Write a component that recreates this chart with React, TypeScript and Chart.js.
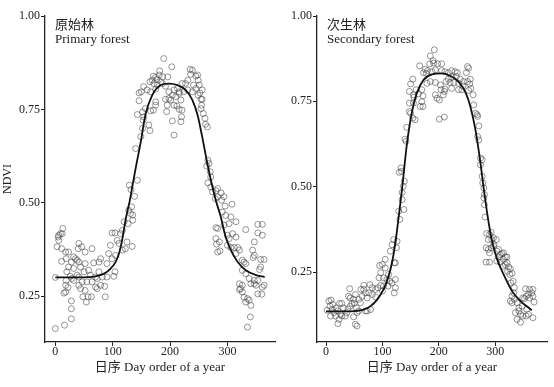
import React, { useEffect, useRef } from 'react';
import { Chart, registerables } from 'chart.js';

Chart.register(...registerables);

const X_TICKS = [0, 100, 200, 300];
const Y_TICKS = [0.25, 0.5, 0.75, 1.0];
const X_TITLE = '日序 Day order of a year';
const Y_TITLE = 'NDVI';

// Primary forest observations [day, NDVI]
const PRIMARY_POINTS: [number, number][] = [
  [0,0.163],[16,0.172],[28,0.189],[28,0.216],[28,0.237],[18,0.261],[15,0.258],[22,0.273],[6,0.413],[5,0.408],[9,0.417],[13,0.431],[12,0.417],[6,0.399],[3,0.382],[11,0.377],[18,0.368],[23,0.368],[41,0.391],[40,0.377],[46,0.382],[52,0.368],[64,0.377],[32,0.355],[35,0.350],[38,0.346],[41,0.341],[11,0.343],[19,0.350],[28,0.341],[44,0.328],[52,0.337],[67,0.339],[76,0.341],[79,0.350],[23,0.328],[32,0.324],[20,0.315],[26,0.303],[29,0.297],[41,0.301],[47,0.288],[50,0.315],[58,0.319],[61,0.306],[70,0.301],[76,0.315],[55,0.288],[64,0.288],[70,0.274],[73,0.270],[79,0.279],[86,0.276],[90,0.301],[87,0.248],[52,0.265],[57,0.248],[48,0.248],[54,0.234],[63,0.248],[41,0.279],[44,0.270],[32,0.292],[19,0.292],[18,0.279],[93,0.364],[96,0.386],[99,0.419],[104,0.419],[108,0.399],[111,0.391],[114,0.417],[117,0.426],[120,0.449],[125,0.395],[122,0.377],[134,0.383],[117,0.373],[105,0.359],[99,0.350],[104,0.315],[102,0.303],[90,0.337],[82,0.301],[128,0.480],[131,0.471],[135,0.467],[133,0.489],[135,0.453],[127,0.444],[73,0.297],[38,0.306],[0,0.300],
  [189,0.886],[203,0.864],[182,0.853],[171,0.839],[175,0.836],[181,0.842],[187,0.837],[196,0.837],[165,0.824],[169,0.828],[177,0.830],[184,0.824],[172,0.819],[178,0.815],[187,0.819],[192,0.812],[154,0.811],[160,0.802],[150,0.797],[146,0.794],[166,0.797],[175,0.804],[198,0.797],[207,0.802],[213,0.806],[221,0.819],[227,0.819],[231,0.828],[236,0.844],[239,0.855],[235,0.857],[248,0.842],[245,0.839],[249,0.828],[241,0.815],[251,0.815],[245,0.806],[239,0.797],[231,0.802],[224,0.797],[216,0.797],[204,0.788],[198,0.779],[192,0.777],[201,0.775],[210,0.784],[216,0.793],[219,0.775],[212,0.759],[216,0.750],[221,0.748],[207,0.761],[195,0.761],[194,0.744],[204,0.719],[220,0.730],[219,0.717],[207,0.681],[175,0.770],[175,0.761],[171,0.748],[166,0.746],[157,0.752],[152,0.743],[143,0.736],[146,0.773],[154,0.730],[153,0.721],[163,0.708],[165,0.693],[152,0.699],[149,0.677],[140,0.645],[143,0.560],[129,0.547],[132,0.535],[138,0.517],[254,0.777],[256,0.777],[255,0.761],[254,0.752],[258,0.739],[261,0.726],[265,0.703],[262,0.710],[266,0.614],[268,0.605],[264,0.598],[270,0.583],[271,0.569],[266,0.553],[271,0.542],[274,0.529],[283,0.538],[289,0.526],[283,0.516],[294,0.516],[252,0.794],[249,0.788],[256,0.802],
  [280,0.532],[279,0.511],[290,0.507],[296,0.491],[308,0.496],[291,0.475],[297,0.466],[306,0.462],[315,0.449],[303,0.444],[294,0.440],[280,0.433],[283,0.431],[309,0.417],[300,0.413],[303,0.404],[315,0.408],[280,0.404],[286,0.395],[281,0.389],[283,0.368],[287,0.371],[300,0.386],[306,0.380],[312,0.380],[318,0.380],[321,0.373],[315,0.364],[326,0.346],[329,0.341],[332,0.337],[332,0.428],[353,0.442],[361,0.442],[353,0.419],[361,0.413],[347,0.395],[344,0.373],[347,0.359],[345,0.353],[358,0.348],[364,0.348],[358,0.328],[356,0.321],[321,0.283],[326,0.279],[323,0.270],[321,0.267],[341,0.283],[347,0.283],[350,0.279],[353,0.292],[347,0.292],[364,0.279],[361,0.274],[353,0.256],[360,0.255],[326,0.261],[329,0.247],[335,0.243],[338,0.239],[332,0.234],[341,0.225],[340,0.194],[335,0.167],[326,0.319],[332,0.310],[338,0.297]
];

// Primary forest fitted curve
const PRIMARY_CURVE_DAYS = [0,40,70,85,96,105,111,117,122,126,130,135,141,149,157,169,184,198,213,227,239,248,256,265,274,280,288,297,306,318,332,350,365];
const PRIMARY_CURVE_NDVI = [0.300,0.300,0.303,0.310,0.323,0.341,0.364,0.404,0.450,0.480,0.507,0.550,0.600,0.663,0.735,0.788,0.815,0.819,0.815,0.802,0.775,0.735,0.677,0.605,0.542,0.505,0.465,0.408,0.373,0.341,0.319,0.306,0.301];

// Secondary forest observations [day, NDVI]
const SECONDARY_POINTS: [number, number][] = [
  [2,0.138],[7,0.150],[5,0.165],[9,0.168],[12,0.155],[11,0.140],[14,0.131],[8,0.121],[17,0.121],[21,0.136],[18,0.145],[24,0.158],[28,0.158],[31,0.145],[26,0.126],[23,0.111],[21,0.099],[28,0.121],[34,0.121],[37,0.131],[39,0.142],[43,0.150],[46,0.158],[43,0.174],[40,0.179],[42,0.201],[49,0.170],[52,0.184],[54,0.145],[55,0.131],[49,0.119],[52,0.097],[55,0.092],[58,0.136],[61,0.160],[64,0.179],[62,0.199],[67,0.211],[70,0.189],[73,0.174],[76,0.189],[78,0.213],[82,0.184],[79,0.140],[73,0.136],[70,0.136],[82,0.204],[88,0.199],[92,0.204],[97,0.211],[100,0.194],[102,0.209],[88,0.177],[94,0.233],[97,0.248],[95,0.269],[100,0.272],[105,0.262],[105,0.287],[102,0.233],[108,0.228],[111,0.243],[110,0.209],[113,0.223],[117,0.218],[123,0.204],[123,0.228],[121,0.189],[114,0.311],[117,0.330],[120,0.345],[125,0.321],[126,0.340],[121,0.277],[123,0.277],[131,0.404],[129,0.428],[138,0.433],[135,0.483],[139,0.516],[137,0.501],[135,0.462],[67,0.199],[58,0.170],[50,0.158],
  [192,0.901],[185,0.883],[190,0.869],[184,0.860],[191,0.862],[198,0.860],[205,0.860],[166,0.854],[176,0.844],[180,0.840],[188,0.837],[194,0.842],[173,0.834],[178,0.832],[205,0.840],[211,0.837],[217,0.834],[223,0.840],[229,0.837],[233,0.834],[251,0.852],[253,0.847],[249,0.834],[256,0.815],[251,0.808],[244,0.808],[238,0.815],[231,0.823],[223,0.821],[217,0.815],[213,0.808],[220,0.805],[227,0.805],[235,0.803],[243,0.795],[255,0.801],[257,0.788],[253,0.782],[235,0.784],[223,0.788],[211,0.786],[203,0.798],[194,0.805],[185,0.808],[179,0.803],[170,0.784],[160,0.784],[154,0.815],[150,0.801],[148,0.779],[155,0.769],[164,0.772],[156,0.762],[172,0.766],[170,0.749],[155,0.745],[148,0.745],[167,0.735],[172,0.735],[194,0.769],[197,0.759],[201,0.754],[208,0.769],[210,0.779],[204,0.784],[148,0.720],[150,0.715],[154,0.701],[158,0.696],[143,0.674],[140,0.639],[142,0.633],[261,0.769],[262,0.740],[265,0.715],[268,0.711],[269,0.706],[271,0.678],[269,0.647],[271,0.637],[201,0.698],[210,0.704],[133,0.555],[130,0.542],[134,0.545],[274,0.584],[277,0.579],[274,0.564],[277,0.530],[278,0.511],[280,0.496],[241,0.784],
  [281,0.477],[280,0.467],[281,0.447],[282,0.411],[285,0.363],[290,0.360],[293,0.366],[288,0.345],[294,0.345],[297,0.350],[302,0.345],[284,0.321],[288,0.316],[293,0.321],[297,0.326],[290,0.306],[303,0.311],[306,0.316],[309,0.301],[312,0.304],[315,0.306],[318,0.294],[321,0.294],[315,0.287],[318,0.272],[321,0.277],[324,0.265],[322,0.252],[327,0.259],[326,0.243],[330,0.246],[332,0.223],[328,0.218],[334,0.204],[284,0.279],[290,0.279],[303,0.282],[309,0.279],[354,0.201],[361,0.199],[367,0.199],[365,0.189],[359,0.184],[355,0.179],[349,0.174],[352,0.172],[361,0.174],[367,0.179],[369,0.162],[333,0.189],[330,0.179],[334,0.170],[339,0.160],[342,0.145],[336,0.131],[342,0.136],[345,0.126],[339,0.111],[345,0.103],[349,0.121],[355,0.121],[359,0.126],[367,0.116],[356,0.141],[348,0.150],[330,0.160],[327,0.165],[298,0.331],[314,0.267],[306,0.294]
];

// Secondary forest fitted curve
const SECONDARY_CURVE_DAYS = [0,43,67,79,91,102,111,117,123,129,135,143,152,161,173,188,205,220,235,248,256,265,274,280,288,294,303,315,330,345,365];
const SECONDARY_CURVE_NDVI = [0.135,0.135,0.140,0.150,0.170,0.199,0.238,0.277,0.335,0.413,0.495,0.618,0.715,0.774,0.813,0.829,0.832,0.825,0.808,0.774,0.735,0.667,0.569,0.491,0.400,0.345,0.290,0.243,0.194,0.165,0.138];

const SERIF = '"Liberation Serif", "Times New Roman", "Noto Sans CJK SC", serif';
const AXIS_COLOR = '#222';

type PanelProps = {
  left: number;
  width: number;
  axisWidth: number;
  padRight: number;
  yMin: number;
  xMin: number;
  xMax: number;
  showYTitle: boolean;
  points: [number, number][];
  curveDays: number[];
  curveNdvi: number[];
  labelCn: string;
  labelEn: string;
};

function Panel(p: PanelProps) {
  const ref = useRef<HTMLCanvasElement | null>(null);
  useEffect(() => {
    if (!ref.current) return;
    const chart = new Chart(ref.current, {
      type: 'scatter',
      data: {
        datasets: [
          {
            data: p.curveDays.map((d, i) => ({ x: d, y: p.curveNdvi[i] })),
            showLine: true,
            borderColor: '#111',
            borderWidth: 1.8,
            pointRadius: 0,
            cubicInterpolationMode: 'monotone',
            fill: false,
          } as any,
          {
            data: p.points.map(([d, v]) => ({ x: d, y: v })),
            showLine: false,
            pointRadius: 3,
            pointBorderWidth: 0.9,
            pointBorderColor: 'rgba(60,60,60,0.6)',
            pointBackgroundColor: 'rgba(0,0,0,0)',
          },
        ],
      },
      options: {
        animation: false,
        responsive: false,
        maintainAspectRatio: false,
        layout: { padding: { top: 16, left: 0, right: p.padRight, bottom: 0 } },
        plugins: { legend: { display: false }, tooltip: { enabled: false } },
        scales: {
          x: {
            type: 'linear',
            min: p.xMin,
            max: p.xMax,
            afterBuildTicks: (axis: any) => {
              axis.ticks = X_TICKS.map((v) => ({ value: v }));
            },
            afterFit: (s: any) => {
              s.height = 45;
            },
            grid: { drawOnChartArea: false, drawTicks: true, tickLength: 4, color: AXIS_COLOR, lineWidth: 1 },
            border: { display: true, color: AXIS_COLOR, width: 1.3 },
            ticks: {
              color: AXIS_COLOR,
              padding: 0,
              maxRotation: 0,
              font: { family: SERIF, size: 12, lineHeight: 1 },
              callback: (v: any) => String(v),
            },
            title: {
              display: true,
              text: X_TITLE,
              color: AXIS_COLOR,
              font: { family: SERIF, size: 13 },
              padding: { top: 0, bottom: 12 },
            },
          },
          y: {
            type: 'linear',
            min: p.yMin,
            max: 1.0,
            afterBuildTicks: (axis: any) => {
              axis.ticks = Y_TICKS.map((v) => ({ value: v }));
            },
            afterFit: (s: any) => {
              s.width = p.axisWidth;
            },
            grid: { drawOnChartArea: false, drawTicks: true, tickLength: 4, color: AXIS_COLOR, lineWidth: 1 },
            border: { display: true, color: AXIS_COLOR, width: 1.3 },
            ticks: {
              color: AXIS_COLOR,
              padding: 1,
              font: { family: SERIF, size: 12 },
              callback: (v: any) => Number(v).toFixed(2),
            },
            title: {
              display: p.showYTitle,
              text: Y_TITLE,
              color: AXIS_COLOR,
              font: { family: SERIF, size: 12 },
              padding: { top: 1, bottom: 0 },
            },
          },
        },
      } as any,
    });
    return () => chart.destroy();
  }, []);

  const labelStyle: React.CSSProperties = {
    position: 'absolute',
    fontFamily: SERIF,
    fontSize: 13,
    lineHeight: '13px',
    color: '#222',
    whiteSpace: 'nowrap',
  };

  return (
    <div style={{ position: 'absolute', left: p.left, top: 0, width: p.width, height: 387 }}>
      <canvas ref={ref} width={p.width} height={387} style={{ width: p.width, height: 387, display: 'block' }} />
      <div style={{ ...labelStyle, left: p.axisWidth + 10, top: 18 }}>{p.labelCn}</div>
      <div style={{ ...labelStyle, left: p.axisWidth + 10, top: 32 }}>{p.labelEn}</div>
    </div>
  );
}

export default function App() {
  return (
    <div style={{ position: 'absolute', left: 0, top: 0, width: 554, height: 387, background: '#fff' }}>
      <Panel
        left={0}
        width={280}
        axisWidth={45}
        padRight={5}
        yMin={0.127}
        xMin={-18}
        xMax={383}
        showYTitle={true}
        points={PRIMARY_POINTS}
        curveDays={PRIMARY_CURVE_DAYS}
        curveNdvi={PRIMARY_CURVE_NDVI}
        labelCn="原始林"
        labelEn="Primary forest"
      />
      <Panel
        left={277}
        width={277}
        axisWidth={40}
        padRight={7}
        yMin={0.045}
        xMin={-16}
        xMax={392}
        showYTitle={false}
        points={SECONDARY_POINTS}
        curveDays={SECONDARY_CURVE_DAYS}
        curveNdvi={SECONDARY_CURVE_NDVI}
        labelCn="次生林"
        labelEn="Secondary forest"
      />
    </div>
  );
}
